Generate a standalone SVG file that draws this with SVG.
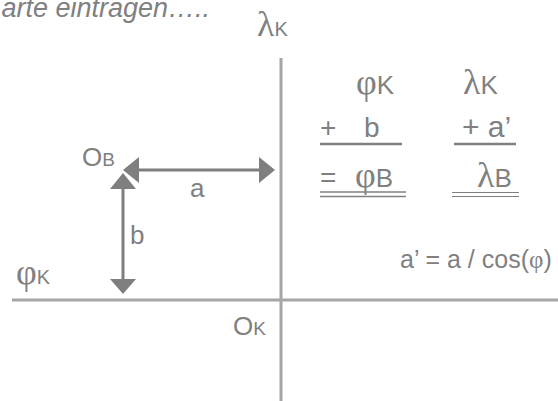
<svg xmlns="http://www.w3.org/2000/svg" width="558" height="401" viewBox="0 0 558 401">
<style>
text{font-family:"Liberation Sans",Arial,sans-serif;fill:#808080;font-size:26px}
.gr{font-family:"Liberation Serif","Times New Roman",serif;font-size:36px}
.sub{font-size:20px}
.tab{font-size:28px}
.tsub{font-size:26px}
.axis{stroke:#a6a6a6;stroke-width:3;fill:none}
.arr{stroke:#7f7f7f;stroke-width:3;fill:none}
.head{fill:#7f7f7f}
.ul{stroke:#808080;fill:none}
</style>
<rect width="558" height="401" fill="#fff"/>
<g id="title"><text x="210" y="17" text-anchor="end" font-style="italic" style="font-size:27px">arte eintragen…..</text></g>
<g id="connectors">
<line class="axis" x1="281" y1="58" x2="281" y2="401"/>
<line class="axis" x1="12" y1="300" x2="558" y2="300"/>
<line class="arr" x1="136" y1="170" x2="262" y2="170"/>
<polygon class="head" points="123,170 139,157 139,183"/>
<polygon class="head" points="275,170 259,157 259,183"/>
<line class="arr" x1="123" y1="186" x2="123" y2="282"/>
<polygon class="head" points="123,173 110,189 136,189"/>
<polygon class="head" points="123,294 110,279 136,279"/>
</g>
<g id="label-lambdaK-axis"><text x="257" y="36"><tspan class="gr">λ</tspan><tspan class="sub">K</tspan></text></g>
<g id="label-phiK-axis"><text x="16" y="284"><tspan class="gr">φ</tspan><tspan class="sub">K</tspan></text></g>
<g id="label-OB"><text x="82" y="166">O<tspan style="font-size:19px">B</tspan></text></g>
<g id="label-OK"><text x="233" y="335">O<tspan style="font-size:19px">K</tspan></text></g>
<g id="label-a"><text x="190" y="197">a</text></g>
<g id="label-b"><text x="130" y="244">b</text></g>
<g id="table">
<text x="356" y="94"><tspan class="gr">φ</tspan><tspan class="tsub">K</tspan></text>
<text x="463" y="94"><tspan class="gr">λ</tspan><tspan class="tsub">K</tspan></text>
<text class="tab" x="320" y="137">+</text>
<text class="tab" x="364" y="137">b</text>
<line class="ul" x1="320" y1="144" x2="402" y2="144" stroke-width="2.5"/>
<text class="tab" x="462" y="137" style="font-size:30px">+ a’</text>
<line class="ul" x1="454" y1="144" x2="516" y2="144" stroke-width="2.5"/>
<text class="tab" x="320" y="187">=</text>
<text x="355" y="187"><tspan class="gr">φ</tspan><tspan class="tsub">B</tspan></text>
<line class="ul" x1="320" y1="192" x2="406" y2="192" stroke-width="1.5"/>
<line class="ul" x1="320" y1="196.5" x2="406" y2="196.5" stroke-width="1.5"/>
<text x="477" y="187"><tspan class="gr">λ</tspan><tspan class="tsub">B</tspan></text>
<line class="ul" x1="452" y1="192.5" x2="519" y2="192.5" stroke-width="1.2"/>
<line class="ul" x1="452" y1="196.5" x2="519" y2="196.5" stroke-width="1.2"/>
</g>
<g id="formula"><text x="400" y="268" style="font-size:25px">a’ = a / cos(<tspan font-family="Liberation Serif, serif">φ</tspan>)</text></g>
</svg>
